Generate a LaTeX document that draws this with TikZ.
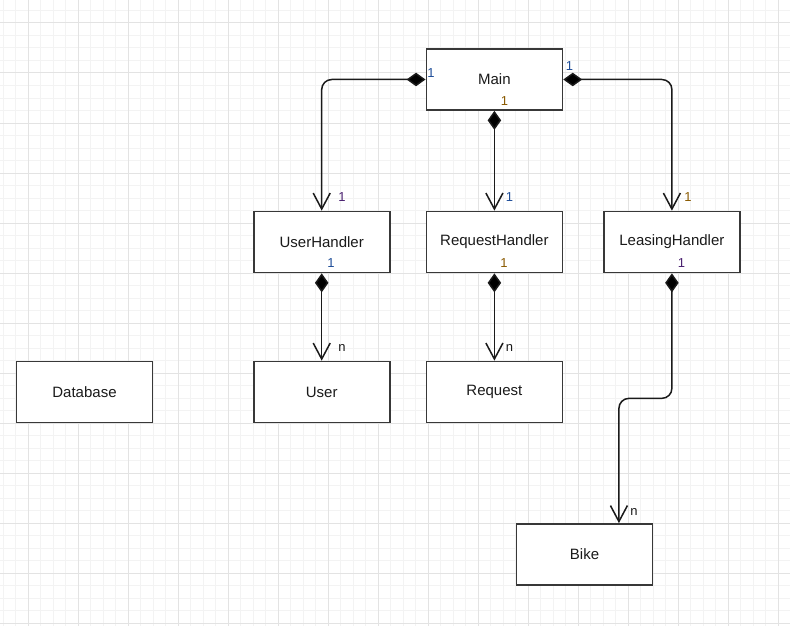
\documentclass[tikz,border=0pt]{standalone}
\usepackage{fontspec}
\setmainfont{Liberation Sans}
\usetikzlibrary{arrows.meta,calc}
\definecolor{gridminor}{HTML}{F3F3F3}
\definecolor{gridmajor}{HTML}{E3E3E3}
\definecolor{boxline}{HTML}{383838}
\definecolor{edge}{HTML}{1A1A1A}
\definecolor{txt}{HTML}{1A1A1A}
\definecolor{mblue}{HTML}{1F4E99}
\definecolor{mpurple}{HTML}{4A2070}
\definecolor{morange}{HTML}{8A5A00}
\begin{document}
\begin{tikzpicture}[x=1pt,y=-1pt,
  box/.style={draw=boxline, line width=1.7pt, fill=white, minimum width=136pt,
    minimum height=61pt, inner sep=0pt, font=\fontsize{15}{18}\selectfont, text=txt},
  comp/.style={draw=edge, line width=1.5pt, rounded corners=10pt,
    {Diamond[length=19pt,width=13.5pt,fill=black]}-{Straight Barb[length=16pt,width=17pt]}},
  mult/.style={font=\fontsize{13}{15}\selectfont, inner sep=0pt}]
\fill[white] (0,0) rectangle (790,626);
\useasboundingbox (0,0) rectangle (790,626);
% grid
\foreach \i in {0,...,63} \draw[gridminor, line width=1pt] ({3.3+12.5*\i},0) -- ({3.3+12.5*\i},626);
\foreach \i in {1,...,50} \draw[gridminor, line width=1pt] (0,{-2+12.5*\i}) -- (790,{-2+12.5*\i});
\foreach \i in {0,...,15} \draw[gridmajor, line width=1pt] ({28.3+50*\i},0) -- ({28.3+50*\i},626);
\foreach \i in {0,...,12} \draw[gridmajor, line width=1pt] (0,{23+50*\i}) -- (790,{23+50*\i});
% nodes
\node[box] (main) at (494.4,79.5) {Main};
\node[box] (uh) at (321.7,242) {UserHandler};
\node[box] (rh) at (494.4,242) {RequestHandler};
\node[box] (lh) at (671.9,242) {LeasingHandler};
\node[box] (user) at (321.7,392) {User};
\node[box] (req) at (494.4,392) {Request};
\node[box] (db) at (84.5,392) {Database};
\node[box] (bike) at (584.5,554.5) {Bike};
% connectors
\draw[comp] (main.west) -| (uh.north);
\draw[comp] (main.east) -| (lh.north);
\draw[comp] (main.south) -- (rh.north);
\draw[comp] (uh.south) -- (user.north);
\draw[comp] (rh.south) -- (req.north);
\coordinate (bk) at ($(bike.north west)!0.75!(bike.north east)$);
\draw[comp] (lh.south) -- ++(0,125) -| (bk);
% multiplicities
\node[mult, text=mblue] (m1) at (431,73) {1};
\node[mult, text=mpurple] (m2) at (342,197) {1};
\node[mult, text=mblue] (m3) at (569.5,66) {1};
\node[mult, text=morange] (m4) at (688,197) {1};
\node[mult, text=morange] (m5) at (504.5,101.5) {1};
\node[mult, text=mblue] (m6) at (509.5,197) {1};
\node[mult, text=mblue] (m7) at (331,263) {1};
\node[mult, text=morange] (m8) at (504,263) {1};
\node[mult, text=mpurple] (m9) at (681.5,263) {1};
\node[mult, text=txt] (n1) at (342,348) {n};
\node[mult, text=txt] (n2) at (509.5,348) {n};
\node[mult, text=txt] (n3) at (634,512) {n};
\end{tikzpicture}
\end{document}
